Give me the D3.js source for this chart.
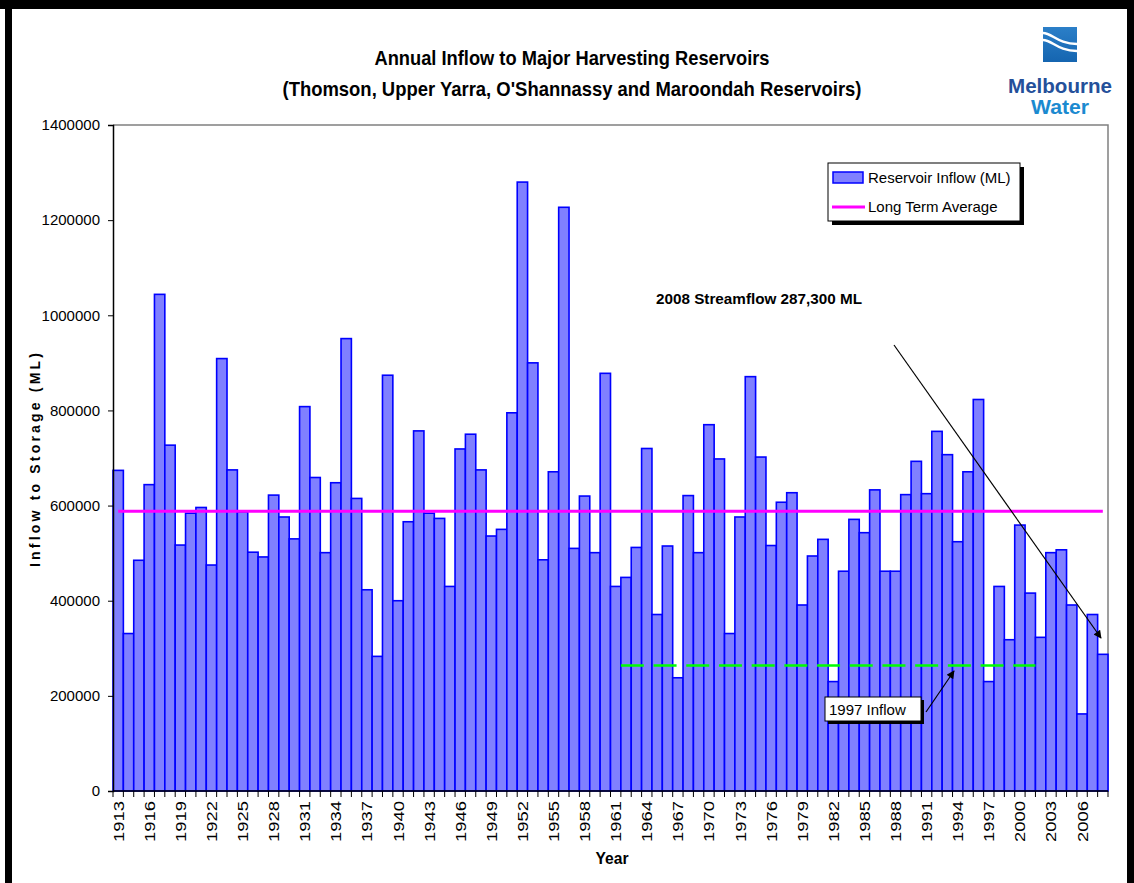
<!DOCTYPE html>
<html>
<head>
<meta charset="utf-8">
<script src="https://cdn.jsdelivr.net/npm/d3@7"></script>
<style>
  body { margin: 0; background: #fff; }
  svg { display: block; }
  text { font-family: "Liberation Sans", Arial, sans-serif; }
</style>
</head>
<body>
<div id="chart"></div>
<script>
var width = 1134;
var height = 883;

// categories
var years = [1913,1914,1915,1916,1917,1918,1919,1920,1921,1922,
  1923,1924,1925,1926,1927,1928,1929,1930,1931,1932,
  1933,1934,1935,1936,1937,1938,1939,1940,1941,1942,
  1943,1944,1945,1946,1947,1948,1949,1950,1951,1952,
  1953,1954,1955,1956,1957,1958,1959,1960,1961,1962,
  1963,1964,1965,1966,1967,1968,1969,1970,1971,1972,
  1973,1974,1975,1976,1977,1978,1979,1980,1981,1982,
  1983,1984,1985,1986,1987,1988,1989,1990,1991,1992,
  1993,1994,1995,1996,1997,1998,1999,2000,2001,2002,
  2003,2004,2005,2006,2007,2008];

// reservoir inflow (ML)
var inflow = [674000,331000,485000,644000,1044000,727000,517000,584000,596000,475000,
  909000,675000,587000,502000,492000,622000,576000,530000,808000,659000,
  501000,648000,951000,615000,423000,283000,874000,400000,566000,757000,
  584000,573000,430000,719000,750000,675000,536000,550000,795000,1280000,
  900000,486000,671000,1227000,510000,620000,501000,878000,430000,449000,
  512000,720000,371000,515000,238000,621000,501000,770000,698000,331000,
  576000,871000,702000,516000,607000,627000,391000,494000,529000,230000,
  462000,571000,543000,633000,462000,462000,623000,693000,625000,756000,
  707000,524000,671000,823000,230000,430000,318000,559000,416000,323000,
  501000,507000,391000,162000,371000,287300];

var longTermAverage = 588000;
var inflow1997Line = 264000;
var inflow1997Span = [1962, 2001];

var yTicks = [0,200000,400000,600000,800000,1000000,1200000,1400000];
var xTickLabels = [1913,1916,1919,1922,1925,1928,1931,1934,1937,1940,1943,1946,1949,
  1952,1955,1958,1961,1964,1967,1970,1973,1976,1979,1982,1985,1988,1991,1994,1997,
  2000,2003,2006];

var svg = d3.select("#chart")
  .append("svg")
  .attr("width", width)
  .attr("height", height);

svg.append("rect").attr("width", width).attr("height", height).attr("fill", "#fff");

// black frame of the picture
svg.append("rect").attr("x", 0).attr("y", 0).attr("width", width).attr("height", 9).attr("fill", "#000");
svg.append("rect").attr("x", 5).attr("y", 0).attr("width", 7).attr("height", height).attr("fill", "#000");
svg.append("rect").attr("x", 1127).attr("y", 0).attr("width", 7).attr("height", height).attr("fill", "#000");

var defs = svg.append("defs");
defs.append("marker")
  .attr("id", "arrow")
  .attr("viewBox", "0 0 10 10")
  .attr("refX", 9).attr("refY", 5)
  .attr("markerWidth", 10).attr("markerHeight", 8)
  .attr("markerUnits", "userSpaceOnUse")
  .attr("orient", "auto")
  .append("path")
  .attr("d", "M0,0 L10,5 L0,10 z")
  .attr("fill", "#000");

var x = d3.scaleBand().domain(years).range([113, 1108]).padding(0);
var y = d3.scaleLinear().domain([0, 1400000]).range([791, 125]);

// plot border (top / right grey)
svg.append("path")
  .attr("d", "M113,125 H1108 V791")
  .attr("fill", "none")
  .attr("stroke", "#808080")
  .attr("stroke-width", 1.5);

// bars
svg.selectAll(".bar")
  .data(years)
  .enter().append("rect")
  .attr("class", "bar")
  .attr("x", function(d) { return x(d); })
  .attr("y", function(d, i) { return y(inflow[i]); })
  .attr("width", x.bandwidth())
  .attr("height", function(d, i) { return y(0) - y(inflow[i]); })
  .attr("fill", "#8080ff")
  .attr("stroke", "#0000ff")
  .attr("stroke-width", 1.6);

// long term average
svg.append("line")
  .attr("x1", x(years[0]) + x.bandwidth() / 2)
  .attr("x2", x(years[years.length - 1]) + x.bandwidth() / 2)
  .attr("y1", y(longTermAverage))
  .attr("y2", y(longTermAverage))
  .attr("stroke", "#ff00ff")
  .attr("stroke-width", 3);

// 1997 inflow dashed line
svg.append("line")
  .attr("x1", x(inflow1997Span[0]))
  .attr("x2", x(inflow1997Span[1]) + x.bandwidth())
  .attr("y1", y(inflow1997Line))
  .attr("y2", y(inflow1997Line))
  .attr("stroke", "#00ff00")
  .attr("stroke-width", 2.5)
  .attr("stroke-dasharray", "23,9.7");

// y axis
var yAxis = svg.append("g")
  .attr("transform", "translate(113,0)")
  .call(d3.axisLeft(y).tickValues(yTicks).tickSize(5).tickPadding(8).tickFormat(d3.format("d")));
yAxis.select(".domain").attr("stroke", "#000").attr("stroke-width", 1.5);
yAxis.selectAll(".tick line").attr("stroke", "#000");
yAxis.selectAll("text")
  .attr("fill", "#000")
  .style("font-size", "15px")
  .style("font-family", "'Liberation Sans', Arial, sans-serif");

// x axis
svg.append("line")
  .attr("x1", 113).attr("x2", 1108)
  .attr("y1", 791).attr("y2", 791)
  .attr("stroke", "#000").attr("stroke-width", 1.5);

var tickPos = years.map(function(d) { return x(d); }).concat([x(years[years.length - 1]) + x.bandwidth()]);
svg.selectAll(".xtick")
  .data(tickPos)
  .enter().append("line")
  .attr("class", "xtick")
  .attr("x1", function(d) { return d; })
  .attr("x2", function(d) { return d; })
  .attr("y1", 791).attr("y2", 797)
  .attr("stroke", "#000");

svg.selectAll(".xlabel")
  .data(xTickLabels)
  .enter().append("text")
  .attr("class", "xlabel")
  .attr("transform", function(d) {
    return "translate(" + (x(d) + x.bandwidth() / 2 + 5.5) + ",801) rotate(-90)";
  })
  .attr("text-anchor", "end")
  .attr("textLength", 41)
  .attr("lengthAdjust", "spacingAndGlyphs")
  .style("font-size", "15px")
  .text(function(d) { return d; });

// axis titles
svg.append("text")
  .attr("transform", "translate(40,460) rotate(-90)")
  .attr("text-anchor", "middle")
  .attr("textLength", 214)
  .attr("lengthAdjust", "spacing")
  .style("font-size", "14px")
  .style("font-weight", "bold")
  .text("Inflow to Storage (ML)");

svg.append("text")
  .attr("x", 612).attr("y", 864)
  .attr("text-anchor", "middle")
  .attr("textLength", 33)
  .attr("lengthAdjust", "spacingAndGlyphs")
  .style("font-size", "17px")
  .style("font-weight", "bold")
  .text("Year");

// title
svg.append("text")
  .attr("x", 572).attr("y", 65)
  .attr("text-anchor", "middle")
  .attr("textLength", 395)
  .attr("lengthAdjust", "spacingAndGlyphs")
  .style("font-size", "21px")
  .style("font-weight", "bold")
  .text("Annual Inflow to Major Harvesting Reservoirs");
svg.append("text")
  .attr("x", 572).attr("y", 96)
  .attr("text-anchor", "middle")
  .attr("textLength", 579)
  .attr("lengthAdjust", "spacingAndGlyphs")
  .style("font-size", "21px")
  .style("font-weight", "bold")
  .text("(Thomson, Upper Yarra, O'Shannassy and Maroondah Reservoirs)");

// logo
var logo = svg.append("g");
var grad = defs.append("linearGradient").attr("id", "logoGrad")
  .attr("x1", 0).attr("y1", 0).attr("x2", 0).attr("y2", 1);
grad.append("stop").attr("offset", "0%").attr("stop-color", "#2b7fc8");
grad.append("stop").attr("offset", "100%").attr("stop-color", "#1565b0");
logo.append("rect").attr("x", 1043).attr("y", 27).attr("width", 34).attr("height", 35).attr("fill", "url(#logoGrad)");
logo.append("path")
  .attr("d", "M1043,33 C1052,33 1058,44 1077,44 M1043,40 C1052,40 1058,51 1077,51")
  .attr("fill", "none").attr("stroke", "#fff").attr("stroke-width", 2.5);
logo.append("text")
  .attr("x", 1060).attr("y", 93)
  .attr("text-anchor", "middle")
  .attr("textLength", 104)
  .attr("lengthAdjust", "spacingAndGlyphs")
  .attr("fill", "#24509a")
  .style("font-size", "21px")
  .style("font-weight", "bold")
  .text("Melbourne");
logo.append("text")
  .attr("x", 1060).attr("y", 114)
  .attr("text-anchor", "middle")
  .attr("textLength", 58)
  .attr("lengthAdjust", "spacingAndGlyphs")
  .attr("fill", "#1b8ad0")
  .style("font-size", "21px")
  .style("font-weight", "bold")
  .text("Water");

// legend
var legend = svg.append("g");
legend.append("rect").attr("x", 832).attr("y", 167).attr("width", 192).attr("height", 58).attr("fill", "#000");
legend.append("rect").attr("x", 828).attr("y", 163).attr("width", 192).attr("height", 58)
  .attr("fill", "#fff").attr("stroke", "#000").attr("stroke-width", 1);
legend.append("rect").attr("x", 833).attr("y", 172).attr("width", 30).attr("height", 11)
  .attr("fill", "#8080ff").attr("stroke", "#0000ff").attr("stroke-width", 1.5);
legend.append("text").attr("x", 868).attr("y", 183)
  .style("font-size", "15px").text("Reservoir Inflow (ML)");
legend.append("line").attr("x1", 832).attr("x2", 865).attr("y1", 207).attr("y2", 207)
  .attr("stroke", "#ff00ff").attr("stroke-width", 3);
legend.append("text").attr("x", 868).attr("y", 212)
  .style("font-size", "15px").text("Long Term Average");

// annotations
svg.append("text")
  .attr("x", 656).attr("y", 304)
  .attr("textLength", 206)
  .attr("lengthAdjust", "spacingAndGlyphs")
  .style("font-size", "15px")
  .style("font-weight", "bold")
  .text("2008 Streamflow 287,300 ML");
svg.append("line")
  .attr("x1", 894).attr("y1", 345).attr("x2", 1101).attr("y2", 638)
  .attr("stroke", "#000").attr("stroke-width", 1.2)
  .attr("marker-end", "url(#arrow)");

svg.append("rect").attr("x", 828).attr("y", 700).attr("width", 96).attr("height", 24).attr("fill", "#000");
svg.append("rect").attr("x", 825).attr("y", 697).attr("width", 96).attr("height", 24)
  .attr("fill", "#fff").attr("stroke", "#000").attr("stroke-width", 1);
svg.append("text").attr("x", 829).attr("y", 715)
  .style("font-size", "15px").text("1997 Inflow");
svg.append("line")
  .attr("x1", 926).attr("y1", 712).attr("x2", 954).attr("y2", 671)
  .attr("stroke", "#000").attr("stroke-width", 1.2)
  .attr("marker-end", "url(#arrow)");
</script>
</body>
</html>
